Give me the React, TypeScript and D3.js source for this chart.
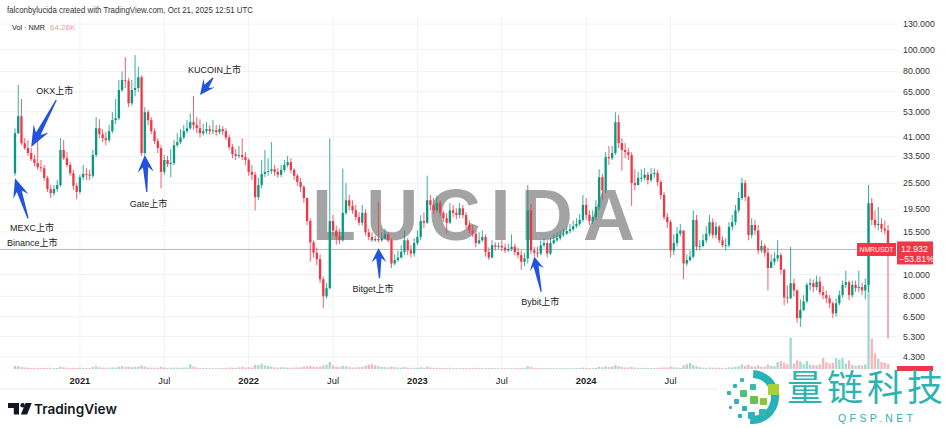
import React from "react";
import * as d3 from "d3";

// ---------- data (weekly NMR/USDT candles) ----------
const startWeek = "2020-08-17";
const lastWeek = "2025-10-13";
const firstOpen = 28.2;
const closes = [
  42.5, 50.6, 38.4, 36.5, 34.7, 32.6, 31.3, 30.0, 29.7, 26.9,
  24.0, 23.0, 24.0, 25.0, 35.8, 32.9, 30.7, 28.2, 24.8, 23.3,
  27.1, 28.0, 27.8, 27.5, 34.0, 44.7, 42.1, 40.4, 39.6, 43.4,
  48.6, 49.6, 66.1, 73.3, 72.6, 57.8, 66.1, 67.5, 75.4, 34.7,
  52.7, 48.6, 43.4, 39.2, 36.5, 28.6, 32.3, 31.0, 31.3, 37.6,
  38.8, 40.7, 43.4, 44.7, 47.6, 46.2, 44.7, 42.5, 43.4, 44.3,
  43.4, 43.8, 43.0, 44.3, 43.4, 40.7, 36.9, 34.3, 33.7, 34.0,
  33.3, 32.3, 28.6, 27.8, 22.1, 25.0, 28.0, 28.6, 28.9, 29.4,
  28.6, 27.8, 29.2, 30.7, 31.6, 29.2, 27.5, 25.8, 24.5, 21.9,
  17.3, 13.9, 12.5, 11.7, 9.53, 8.0, 8.7, 17.3, 15.7, 14.8,
  14.2, 18.8, 21.4, 20.2, 19.3, 18.0, 17.0, 18.8, 15.4, 14.7,
  14.2, 14.4, 14.2, 14.5, 15.1, 14.2, 11.2, 11.6, 11.9, 12.6,
  14.2, 12.8, 12.4, 13.8, 14.7, 17.3, 17.0, 21.4, 20.4, 19.3,
  20.8, 18.8, 17.8, 17.0, 19.3, 18.8, 18.4, 19.7, 18.4, 16.6,
  15.7, 15.2, 13.8, 14.2, 14.7, 12.6, 11.9, 13.5, 13.3, 13.4,
  13.2, 12.8, 13.0, 13.3, 12.6, 12.2, 11.4, 11.8, 19.3, 12.8,
  12.5, 12.4, 13.5, 13.8, 12.4, 13.8, 14.2, 14.5, 15.0, 15.2,
  15.6, 15.9, 16.4, 16.8, 17.5, 20.4, 18.4, 17.3, 18.0, 20.0,
  27.1, 23.7, 33.3, 32.9, 34.7, 47.6, 38.4, 35.8, 35.0, 34.0,
  25.5, 25.0, 26.9, 26.9, 27.8, 26.3, 28.0, 28.3, 25.8, 22.6,
  18.0, 17.1, 12.8, 13.8, 15.2, 15.7, 11.2, 11.6, 12.0, 17.5,
  13.3, 13.4, 14.2, 15.2, 17.1, 15.0, 16.3, 14.2, 13.5, 13.5,
  16.3, 17.1, 19.3, 21.9, 25.5, 22.1, 15.0, 16.6, 15.7, 12.8,
  13.4, 12.5, 10.7, 11.4, 11.8, 12.2, 10.5, 7.92, 7.85, 9.15,
  8.5, 6.4, 6.95, 7.6, 9.0, 9.15, 8.8, 9.3, 8.35, 8.1,
  7.84, 7.45, 6.72, 7.45, 8.1, 9.0, 9.25, 8.1, 9.0, 8.7,
  8.8, 8.5, 9.0, 20.8, 17.5, 16.6, 16.8, 16.0, 15.7, 12.932,
];
const highs = [
  44.7, 69.6, 60.3, 40.4, 39.6, 36.5, 34.0, 40.4, 32.3, 30.7,
  27.5, 25.0, 25.0, 26.3, 40.4, 39.6, 35.0, 31.6, 29.2, 25.5,
  27.8, 30.7, 29.7, 29.2, 35.8, 50.1, 49.1, 44.3, 43.0, 46.2,
  52.7, 60.3, 73.3, 80.0, 92.5, 74.7, 73.3, 94.6, 84.0, 76.8,
  55.5, 54.0, 50.1, 44.7, 40.4, 37.6, 34.0, 33.7, 36.0, 39.6,
  42.5, 44.3, 46.2, 48.6, 52.0, 62.2, 50.1, 49.1, 46.7, 47.6,
  46.2, 48.6, 46.2, 46.2, 45.7, 44.7, 41.8, 38.0, 36.1, 37.3,
  40.4, 35.0, 32.9, 30.7, 28.6, 26.9, 32.3, 35.8, 32.9, 38.8,
  30.7, 29.7, 30.7, 32.3, 33.7, 32.9, 29.7, 28.0, 26.9, 25.0,
  21.9, 17.8, 14.2, 13.2, 12.3, 9.8, 9.15, 40.4, 18.4, 16.5,
  16.0, 29.6, 25.5, 22.6, 21.4, 20.4, 18.9, 20.4, 19.5, 16.0,
  15.4, 14.9, 21.0, 15.4, 16.0, 15.4, 14.5, 12.3, 12.8, 13.5,
  15.7, 14.5, 13.5, 14.5, 15.7, 18.4, 18.9, 27.5, 22.6, 21.9,
  22.4, 21.4, 19.3, 18.8, 20.8, 20.4, 19.7, 20.8, 20.4, 18.9,
  17.4, 16.6, 15.7, 15.4, 15.7, 15.1, 13.2, 14.2, 13.9, 13.9,
  14.2, 13.7, 13.7, 15.1, 13.7, 13.2, 12.8, 12.5, 25.0, 20.6,
  13.3, 13.3, 14.2, 14.5, 14.2, 14.5, 15.1, 15.4, 15.7, 16.0,
  16.4, 16.8, 17.4, 17.8, 18.6, 22.6, 21.9, 19.3, 19.3, 21.4,
  29.4, 28.0, 35.0, 37.3, 37.3, 52.7, 51.2, 40.4, 38.4, 36.5,
  35.0, 29.4, 28.6, 29.4, 29.7, 28.6, 29.7, 29.7, 29.2, 26.3,
  23.3, 18.8, 17.5, 15.1, 16.3, 16.8, 15.4, 12.3, 12.8, 19.3,
  18.4, 14.2, 15.1, 16.4, 18.4, 17.8, 17.1, 16.6, 14.8, 14.5,
  17.1, 18.4, 20.4, 23.3, 26.9, 26.3, 22.4, 17.8, 17.5, 16.6,
  14.2, 13.7, 13.2, 12.3, 12.6, 14.2, 12.5, 10.6, 8.95, 13.3,
  9.6, 8.6, 7.76, 8.1, 9.2, 9.6, 9.5, 9.9, 9.8, 8.9,
  8.5, 8.1, 7.6, 7.84, 8.5, 9.4, 10.4, 9.4, 9.4, 9.4,
  10.4, 9.2, 9.6, 25.0, 21.9, 19.3, 20.0, 17.8, 17.4, 16.6,
];
const lows = [
  27.5, 42.1, 37.6, 35.8, 33.7, 32.0, 30.3, 29.2, 28.6, 26.1,
  23.3, 21.9, 22.4, 23.3, 24.5, 32.3, 30.0, 27.5, 23.8, 21.6,
  22.8, 26.3, 26.3, 26.3, 26.9, 33.3, 40.4, 38.8, 37.6, 38.8,
  42.5, 46.7, 48.6, 64.8, 67.5, 55.5, 56.4, 62.0, 64.8, 33.7,
  34.0, 46.2, 42.1, 38.0, 34.7, 24.2, 27.8, 30.0, 27.1, 30.7,
  36.9, 38.0, 40.0, 42.5, 44.0, 44.0, 42.5, 40.7, 41.4, 42.1,
  41.8, 42.1, 41.4, 42.1, 41.8, 39.6, 35.8, 32.9, 32.3, 32.9,
  32.3, 30.7, 27.5, 26.3, 19.3, 21.4, 24.2, 27.1, 27.5, 28.0,
  27.5, 26.9, 27.1, 28.6, 30.0, 28.3, 26.3, 24.8, 23.3, 20.8,
  16.6, 11.4, 11.9, 11.0, 9.15, 7.08, 7.84, 8.6, 14.9, 13.6,
  13.7, 14.0, 18.4, 19.3, 18.6, 17.4, 16.5, 16.5, 14.9, 14.2,
  14.0, 14.0, 13.9, 14.0, 14.5, 13.9, 10.7, 11.0, 11.4, 11.8,
  12.2, 12.2, 11.9, 12.0, 13.5, 14.2, 16.1, 16.8, 19.3, 18.6,
  18.9, 18.2, 17.1, 15.2, 16.8, 18.0, 17.6, 17.8, 17.8, 16.1,
  15.2, 14.7, 13.2, 13.6, 14.0, 12.0, 11.6, 11.8, 12.8, 13.0,
  12.7, 12.5, 12.6, 12.7, 12.2, 11.8, 10.5, 10.9, 11.2, 12.3,
  12.0, 11.9, 12.2, 13.2, 11.9, 12.2, 13.6, 14.0, 14.2, 14.7,
  15.0, 15.2, 15.6, 16.1, 16.4, 17.1, 17.5, 16.6, 16.8, 17.5,
  19.3, 21.4, 23.0, 30.7, 32.3, 34.0, 36.5, 29.0, 32.9, 32.3,
  20.2, 23.7, 25.0, 25.8, 26.3, 25.2, 25.8, 26.9, 24.8, 21.6,
  17.5, 16.1, 11.9, 12.2, 13.3, 14.8, 9.53, 10.9, 11.4, 11.8,
  12.8, 12.8, 13.2, 13.8, 14.8, 14.5, 14.5, 13.8, 13.2, 12.8,
  13.2, 15.7, 16.6, 18.8, 21.4, 21.2, 14.2, 14.5, 15.0, 12.3,
  12.5, 12.0, 8.5, 10.8, 11.0, 11.4, 10.0, 7.3, 7.45, 7.76,
  8.0, 6.1, 5.85, 6.9, 7.45, 8.5, 8.35, 8.5, 8.1, 7.76,
  7.45, 7.08, 6.4, 6.5, 7.3, 7.9, 8.7, 7.7, 7.9, 8.35,
  8.35, 8.1, 7.76, 8.35, 16.6, 16.1, 15.7, 15.4, 15.1, 5.2,
];
const volumesK = [
  40, 35, 25, 20, 18, 15, 14, 15, 12, 14, 15, 16, 12, 13, 30, 22, 15, 14, 16, 14,
  18, 14, 12, 12, 25, 35, 22, 18, 15, 16, 20, 18, 30, 35, 25, 28, 22, 26, 30, 45,
  30, 20, 18, 15, 16, 28, 18, 14, 15, 18, 16, 15, 18, 20, 60, 30, 18, 14, 12, 12,
  11, 12, 10, 11, 12, 15, 18, 16, 14, 20, 25, 18, 22, 20, 55, 50, 65, 45, 40, 30,
  20, 18, 22, 20, 18, 16, 20, 18, 22, 30, 35, 40, 30, 25, 30, 45, 55, 90, 45, 30,
  25, 40, 35, 25, 20, 20, 22, 25, 40, 55, 60, 45, 35, 25, 22, 20, 30, 22, 18, 16,
  25, 18, 15, 14, 15, 22, 16, 30, 20, 16, 15, 14, 12, 14, 16, 12, 12, 11, 12, 14,
  13, 12, 15, 12, 11, 14, 13, 12, 11, 10, 10, 11, 10, 10, 12, 14, 15, 12, 35, 25,
  14, 12, 12, 11, 12, 12, 11, 10, 10, 11, 10, 10, 12, 11, 12, 18, 14, 12, 12, 15,
  28, 22, 35, 25, 30, 50, 35, 25, 20, 18, 28, 18, 15, 14, 13, 14, 12, 12, 15, 18,
  22, 18, 30, 22, 18, 15, 45, 60, 75, 50, 35, 25, 18, 16, 20, 18, 15, 16, 15, 14,
  22, 20, 28, 35, 60, 40, 55, 35, 30, 45, 30, 28, 55, 40, 35, 90, 100, 80, 60, 400,
  70, 110, 95, 60, 100, 55, 50, 45, 60, 140, 90, 70, 80, 140, 120, 140, 70, 110, 55, 40,
  50, 45, 60, 2100, 390, 200, 130, 90, 80, 64.26,
];
const priceTicks = [130, 100, 80, 65, 53, 41, 33.5, 25.5, 19.5, 15.5, 10, 8, 6.5, 5.3, 4.3];
const timeTickDates = ["2021-01-04", "2021-07-05", "2022-01-03", "2022-07-04", "2023-01-02", "2023-07-03", "2024-01-01", "2024-07-01"];
const timeTickLabels = ["2021", "Jul", "2022", "Jul", "2023", "Jul", "2024", "Jul"];
const listingLabels = ["MEXC上市", "OKX上市", "Gate上市", "KUCOIN上市", "Bitget上市", "Bybit上市"];
const listingWeeks = [0, 5, 40, 57, 112, 160];
const listingPrices = [26.8, 36.9, 34.0, 62.9, 13.1, 12.0];
const binanceLabel = "Binance上市";
const symbol = "NMRUSDT";
const changePct = -53.81;
const headerText = "falconbylucida created with TradingView.com, Oct 21, 2025 12:51 UTC";
const volLabel = "Vol · NMR";

// ---------- layout (not data) ----------
const W = 945, H = 428;
const FONT = "'Liberation Sans', Arial, 'Noto Sans CJK SC', sans-serif";
const UP = "#089981", DOWN = "#f23645";
const arrowLayout = [
  { tail: [13, 40], label: [-5, 53], head: 19, hw: 8 },
  { tail: [25, -47], label: [5, -53], head: 21, hw: 8.5 },
  { tail: [2, 37], label: [-15, 52], head: 17, hw: 8 },
  { tail: [13, -17], label: [-12, -22], head: 15, hw: 7 },
  { tail: [1, 30], label: [-26, 44], head: 14, hw: 7.5 },
  { tail: [7, 35], label: [-13, 48], head: 13, hw: 7 },
];

function arrowPath(tx: number, ty: number, ex: number, ey: number, hl: number, hw: number) {
  const dx = tx - ex, dy = ty - ey;
  const L = Math.hypot(dx, dy);
  const ux = dx / L, uy = dy / L;
  const nx = -uy, ny = ux;
  const bx = tx - ux * hl, by = ty - uy * hl;
  const kx = tx - ux * hl * 0.72, ky = ty - uy * hl * 0.72;
  const sw = 2.6, tw = 0.6;
  const p = [
    [tx, ty],
    [bx + nx * hw, by + ny * hw],
    [kx + nx * sw, ky + ny * sw],
    [ex + nx * tw, ey + ny * tw],
    [ex - nx * tw, ey - ny * tw],
    [kx - nx * sw, ky - ny * sw],
    [bx - nx * hw, by - ny * hw],
  ];
  return "M" + p.map((q) => q[0].toFixed(1) + "," + q[1].toFixed(1)).join("L") + "Z";
}

export default function App() {
  const parse = d3.utcParse("%Y-%m-%d");
  const start = parse(startWeek)!;
  const dates = closes.map((_, i) => d3.utcDay.offset(start, 7 * i));
  const x = d3.scaleUtc().domain([start, parse(lastWeek)!]).range([15, 888]);
  const y = d3.scaleLog().domain([4.3, 130]).range([357, 24]);
  const yVol = d3.scaleLinear().domain([0, d3.max(volumesK)!]).range([369, 205]);
  const opens = closes.map((c, i) => (i === 0 ? firstOpen : closes[i - 1]));
  const fmt = d3.format(".3f");
  const last = closes[closes.length - 1];
  const yLast = y(last);
  const bw = 2.3;

  const squares: [number, number, number, string][] = [
    [727, 391, 4, "#2fb3b8"], [733, 384, 4, "#2fb3b8"], [740, 378, 4, "#37b7b3"],
    [734, 399, 5, "#2fb3b8"], [740, 390, 7, "#55bf7e"], [742, 406, 5, "#2fb3b8"],
    [750, 384, 6, "#3cb8a8"], [750, 396, 8, "#6cc04f"], [748, 412, 7, "#2fb3b8"],
    [760, 398, 7, "#8ac542"], [768, 384, 11, "#a9cf3a"], [759, 409, 7, "#34b5ad"],
    [729, 406, 3, "#2fb3b8"], [738, 414, 4, "#2fb3b8"],
  ];
  const logoArc = d3.arc()({ innerRadius: 19, outerRadius: 27, startAngle: 0.05, endAngle: Math.PI + 0.08 } as any) || "";

  return (
    <svg width={W} height={H} viewBox={`0 0 ${W} ${H}`} style={{ display: "block", position: "absolute", left: 0, top: 0, background: "#fff" }} fontFamily={FONT}>
      <rect x={0} y={0} width={W} height={H} fill="#fff" />
      {priceTicks.map((p, i) => (
        <line key={"hg" + i} x1={0} x2={896} y1={y(p)} y2={y(p)} stroke="#f0f2f6" strokeWidth={1} />
      ))}
      {timeTickDates.map((d, i) => (
        <line key={"vg" + i} x1={x(parse(d)!)} x2={x(parse(d)!)} y1={16} y2={371} stroke="#f0f2f6" strokeWidth={1} />
      ))}
      <text x={312} y={240} fontSize={72} fontWeight={700} fill="#a3a3a3" textLength={323} lengthAdjust="spacing" fontFamily="'Liberation Sans', Arial, sans-serif">LUCIDA</text>
      {volumesK.map((v, i) => {
        const up = closes[i] >= opens[i];
        const xx = x(dates[i]);
        return <rect key={"v" + i} x={xx - bw / 2} y={yVol(v)} width={bw} height={369 - yVol(v)} fill={up ? "rgba(8,153,129,0.38)" : "rgba(242,54,69,0.38)"} />;
      })}
      <line x1={0} x2={857} y1={yLast} y2={yLast} stroke="#b5b8c0" strokeWidth={1} />
      {closes.map((c, i) => {
        const o = opens[i];
        const up = c >= o;
        const col = up ? UP : DOWN;
        const xx = x(dates[i]);
        const hi = Math.max(highs[i], o, c), lo = Math.min(lows[i], o, c);
        const top = y(Math.max(o, c)), bot = y(Math.min(o, c));
        return (
          <g key={"c" + i}>
            <line x1={xx} x2={xx} y1={y(hi)} y2={y(lo)} stroke={col} strokeWidth={0.8} />
            <rect x={xx - bw / 2} y={top} width={bw} height={Math.max(0.9, bot - top)} fill={col} />
          </g>
        );
      })}
      {listingLabels.map((lab, i) => {
        const L = arrowLayout[i];
        const tx = x(dates[listingWeeks[i]]);
        const ty = y(listingPrices[i]);
        return (
          <g key={"a" + i}>
            <path d={arrowPath(tx, ty, tx + L.tail[0], ty + L.tail[1], L.head, L.hw)} fill="#2352de" />
            <text x={tx + L.label[0]} y={ty + L.label[1]} fontSize={9} fill="#222">{lab}</text>
          </g>
        );
      })}
      <text x={7} y={yLast - 3} fontSize={9} fill="#222">{binanceLabel}</text>
      {priceTicks.map((p, i) => (
        <text key={"pt" + i} x={903} y={y(p) + 3} fontSize={8.8} fill="#333">{fmt(p)}</text>
      ))}
      <rect x={857} y={243} width={39} height={13} fill={DOWN} />
      <text x={876.5} y={252.3} fontSize={7.4} fill="#fff" textAnchor="middle" textLength={34} lengthAdjust="spacingAndGlyphs">{symbol}</text>
      <rect x={897} y={yLast - 8} width={36} height={23} fill={DOWN} />
      <text x={901} y={yLast + 3} fontSize={8.8} fill="#fff">{fmt(last)}</text>
      <text x={899} y={yLast + 12.5} fontSize={8.8} fill="#fff">{d3.format(".2f")(changePct) + "%"}</text>
      <rect x={897} y={366} width={36} height={5} fill={DOWN} />
      <line x1={0} x2={W} y1={389} y2={389} stroke="#e6e8ee" strokeWidth={1} />
      {timeTickDates.map((d, i) => (
        <text key={"tt" + i} x={x(parse(d)!)} y={384} fontSize={9.3} textAnchor="middle" fill="#222" fontWeight={/^\d/.test(timeTickLabels[i]) ? 700 : 400}>{timeTickLabels[i]}</text>
      ))}
      <text x={7} y={13} fontSize={8.6} fill="#333" textLength={246} lengthAdjust="spacingAndGlyphs">{headerText}</text>
      <text x={12} y={30} fontSize={8} fill="#222" textLength={33} lengthAdjust="spacingAndGlyphs">{volLabel}</text>
      <text x={50} y={30} fontSize={8} fill="#ee9aa0">{d3.format(".2f")(volumesK[volumesK.length - 1]) + "K"}</text>
      <g fill="#131722">
        <path d="M8 403h11v11.5h-5.2v-6.6H8z" />
        <circle cx={22.6} cy={405.2} r={2.2} />
        <path d="M25.5 403h6.2l-4.6 11.5h-6.2z" />
        <text x={34} y={414} fontSize={13.6} fontWeight={600} fontFamily="Inter, 'Liberation Sans', sans-serif">TradingView</text>
      </g>
      <rect x={718} y={372} width={227} height={56} fill="#fff" />
      <g transform="translate(752,397)">
        <path d={logoArc} fill="#26b2b6" />
      </g>
      {squares.map((s, i) => (
        <rect key={"sq" + i} x={s[0]} y={s[1]} width={s[2]} height={s[2]} rx={1} fill={s[3]} />
      ))}
      <text x={787} y={401} fontSize={36} fill="#2db4b2" textLength={156} lengthAdjust="spacing" fontFamily="'Noto Sans CJK SC', sans-serif">量链科技</text>
      <text x={838} y={422} fontSize={10.5} fill="#38acb2" letterSpacing={3.4}>QFSP.NET</text>
    </svg>
  );
}
